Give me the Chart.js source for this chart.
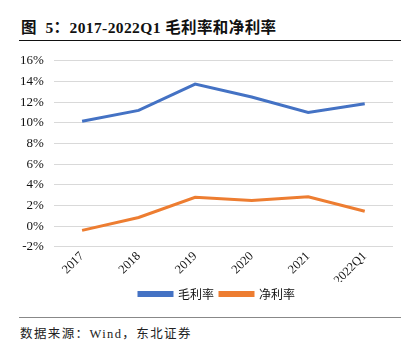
<!DOCTYPE html>
<html>
<head>
<meta charset="utf-8">
<script src="https://cdn.jsdelivr.net/npm/chart.js@4"></script>
<style>
  body { margin: 0; background: #fff; width: 417px; height: 353px; position: relative; overflow: hidden; }
  #title { position: absolute; left: 21px; top: 15px; font: bold 15.5px "Liberation Serif", "Noto Sans CJK SC", serif; color: #111; letter-spacing: 0.4px; white-space: pre; }
  #topline { position: absolute; left: 19px; top: 40px; width: 382px; height: 0; border-top: 1.5px solid #111; }
  #wrap { position: absolute; left: 10px; top: 43px; width: 395px; height: 267px; }
  #botline { position: absolute; left: 19px; top: 317px; width: 382px; height: 0; border-top: 1.5px solid #888; }
  #source { position: absolute; left: 20px; top: 323px; font: 12.5px "Liberation Serif", "Noto Sans CJK SC", serif; color: #222; letter-spacing: 1.4px; }
</style>
</head>
<body>
<div id="title">图  5：2017-2022Q1 毛利率和净利率</div>
<div id="topline"></div>
<div id="wrap"><canvas id="c"></canvas></div>
<div id="botline"></div>
<div id="source">数据来源：Wind，东北证券</div>
<script>
const categories = ["2017", "2018", "2019", "2020", "2021", "2022Q1"];
const grossMargin = [10.15, 11.2, 13.75, 12.5, 11.0, 11.85];
const netMargin = [-0.4, 0.85, 2.8, 2.5, 2.85, 1.45];

const data = {
  labels: categories,
  datasets: [
    {
      label: "毛利率",
      data: grossMargin,
      borderColor: "#4472C4",
      backgroundColor: "#4472C4",
      borderWidth: 3,
      pointRadius: 0,
      tension: 0,
    },
    {
      label: "净利率",
      data: netMargin,
      borderColor: "#ED7D31",
      backgroundColor: "#ED7D31",
      borderWidth: 3,
      pointRadius: 0,
      tension: 0,
    },
  ],
};

// legend sits a bit right of the plot centre in the original
const shiftLegend = {
  id: "shiftLegend",
  afterLayout(chart) {
    const lg = chart.legend;
    const dx = 207 - (lg.left + lg.right) / 2;
    lg.left += dx;
    lg.right += dx;
  },
};

const config = {
  type: "line",
  data: data,
  plugins: [shiftLegend],
  options: {
    responsive: true,
    maintainAspectRatio: false,
    animation: false,
    layout: { padding: { left: 0, right: 12, top: 2, bottom: 0 } },
    scales: {
      x: {
        offset: true,
        grid: { display: false },
        border: { display: false },
        ticks: {
          autoSkip: false,
          minRotation: 45,
          maxRotation: 45,
          color: "#111",
          font: { family: "Liberation Serif", size: 12.5 },
          padding: -6,
        },
      },
      y: {
        min: -2,
        max: 16,
        grid: { color: "#d9d9d9", lineWidth: 1, drawTicks: false },
        border: { display: false },
        ticks: {
          autoSkip: false,
          stepSize: 2,
          color: "#111",
          font: { family: "Liberation Serif", size: 13 },
          padding: 10,
          callback: (v) => v + "%",
        },
      },
    },
    plugins: {
      legend: {
        position: "bottom",
        labels: {
          boxWidth: 33,
          boxHeight: 3,
          color: "#111",
          font: { family: "Noto Sans CJK SC", size: 12 },
          padding: 6,
        },
      },
      tooltip: { enabled: false },
    },
  },
};

const marginChart = new Chart(document.getElementById("c"), config);
</script>
</body>
</html>
